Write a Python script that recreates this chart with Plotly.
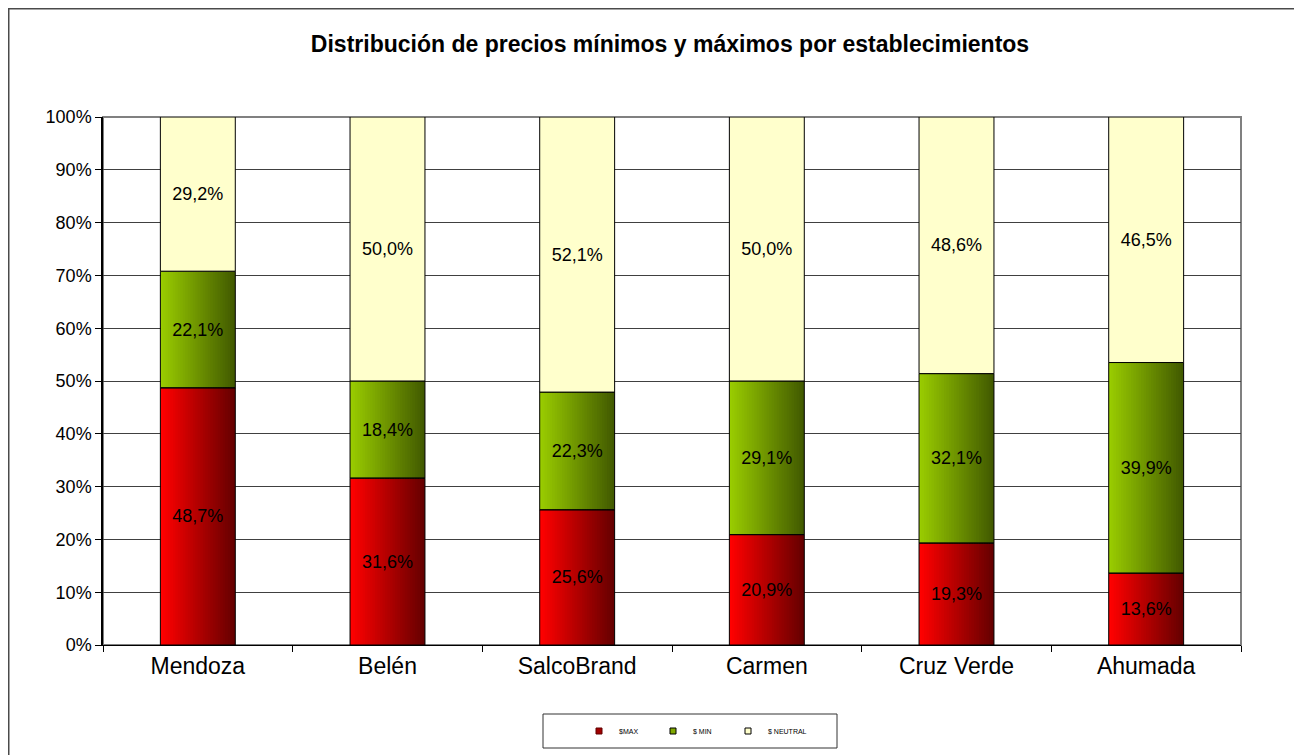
import plotly.graph_objects as go

categories = ["Mendoza", "Belén", "SalcoBrand", "Carmen", "Cruz Verde", "Ahumada"]
smax = [48.7, 31.6, 25.6, 20.9, 19.3, 13.6]
smin = [22.1, 18.4, 22.3, 29.1, 32.1, 39.9]
sneutral = [29.2, 50.0, 52.1, 50.0, 48.6, 46.5]
series_names = ["$MAX", "$ MIN", "$ NEUTRAL"]
title = "Distribución de precios mínimos y máximos por establecimientos"

FONT = "Liberation Sans, Arial, sans-serif"
W = 0.395
N = 30
OFF = 8  # page body margin

def lerp(c1, c2, t):
    return "rgb(%d,%d,%d)" % tuple(round(a + (b - a) * t) for a, b in zip(c1, c2))

fig = go.Figure()

bases_min = smax
bases_neu = [a + b for a, b in zip(smax, smin)]

def gradient(values, bases, c1, c2):
    for i in range(N):
        t = i / (N - 1)
        w = W / N
        extra = w * 0.6 if i < N - 1 else 0
        fig.add_trace(go.Bar(
            x=categories, y=values, base=bases,
            width=[w + extra] * len(categories),
            offset=-W / 2 + i * w,
            marker=dict(color=lerp(c1, c2, t), line=dict(width=0)),
            showlegend=False, hoverinfo="skip",
        ))

gradient(smax, [0] * len(smax), (255, 0, 0), (102, 0, 0))
gradient(smin, bases_min, (153, 204, 0), (66, 90, 0))

def fmt(v):
    return ("%.1f%%" % v).replace(".", ",")

for vals, bases, fill in [(smax, [0] * 6, "rgba(0,0,0,0)"),
                          (smin, bases_min, "rgba(0,0,0,0)"),
                          (sneutral, bases_neu, "#FFFFCC")]:
    fig.add_trace(go.Bar(
        x=categories, y=vals, base=bases, width=[W] * 6, offset=-W / 2,
        marker=dict(color=fill, line=dict(color="black", width=1)),
        text=[fmt(v) for v in vals], textposition="inside",
        insidetextanchor="middle", textangle=0,
        textfont=dict(family=FONT, size=18, color="black"),
        constraintext="none", showlegend=False, hoverinfo="skip",
    ))

FW, FH = 1302, 755
left, right, top, bottom = 103 - OFF, 1241 - OFF, 117 - OFF, 645 - OFF
pw, ph = right - left, bottom - top
def px(x): return (x - OFF - left) / pw
def py(y): return (bottom - (y - OFF)) / ph

legend_ids = ["legend", "legend2", "legend3"]
marker_x = [599, 673, 748]
legend_styles = [("#A00000", "#600000"), ("#7FA800", "black"), ("#FFFFCC", "black")]
legend_layout = {}
for name, lid, (col, lc), mx in zip(series_names, legend_ids, legend_styles, marker_x):
    fig.add_trace(go.Scatter(
        x=[None], y=[None], name=name, mode="markers", legend=lid,
        marker=dict(symbol="square", size=6, color=col, line=dict(color=lc, width=1)),
        showlegend=True,
    ))
    legend_layout[lid] = dict(
        x=px(mx - 20), xanchor="left", y=py(731), yanchor="middle",
        font=dict(family=FONT, size=7, color="black"), bgcolor="rgba(0,0,0,0)",
        itemwidth=30, itemsizing="trace",
    )

shapes = [
    dict(type="rect", xref="paper", yref="paper", x0=px(OFF + 0.5), y0=py(OFF + 0.5),
         x1=px(1500), y1=py(1000),
         line=dict(color="#4a4a4a", width=2), fillcolor="rgba(0,0,0,0)", layer="below"),
    dict(type="rect", xref="paper", yref="paper", x0=0, y0=0, x1=1, y1=1,
         line=dict(color="#808080", width=2), fillcolor="rgba(0,0,0,0)", layer="below"),
    dict(type="rect", xref="paper", yref="paper", x0=px(543), y0=py(748), x1=px(837), y1=py(714),
         line=dict(color="#333333", width=1), fillcolor="white", layer="below"),
]

fig.update_layout(
    width=FW, height=FH,
    margin=dict(l=left, r=FW - right, t=top, b=FH - bottom),
    barmode="overlay",
    paper_bgcolor="white", plot_bgcolor="white",
    separators=",.",
    title=dict(text="<b>" + title + "</b>", x=px(670), xanchor="center", xref="paper",
               y=1 - (44 - OFF) / FH, yanchor="middle",
               font=dict(family=FONT, size=23, color="black")),
    xaxis=dict(type="category", showgrid=False, showline=True, linecolor="black", linewidth=1,
               ticks="outside", tickson="boundaries", ticklen=6, tickcolor="black",
               tickfont=dict(family=FONT, size=23, color="black"), range=[-0.5, 5.5]),
    yaxis=dict(range=[0, 100], tickvals=list(range(0, 101, 10)),
               ticktext=["%d%%" % v for v in range(0, 101, 10)],
               showgrid=True, gridcolor="#404040", gridwidth=1,
               showline=True, linecolor="black", linewidth=1.5,
               ticks="outside", ticklen=6, tickcolor="black",
               tickfont=dict(family=FONT, size=18, color="black"), zeroline=False),
    shapes=shapes,
    showlegend=True,
    **legend_layout,
)

fig.write_html("out.html")
